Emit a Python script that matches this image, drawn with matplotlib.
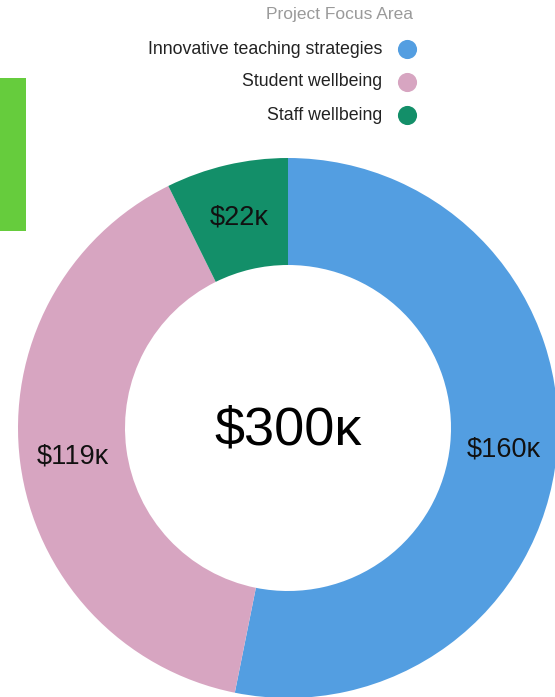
import numpy as np
import matplotlib
matplotlib.use("Agg")
import matplotlib.pyplot as plt
from matplotlib.patches import Rectangle

# ---------------------------------------------------------------------------
# Data
# ---------------------------------------------------------------------------
categories = ["Innovative teaching strategies", "Student wellbeing", "Staff wellbeing"]
values = [160, 119, 22]          # $ thousands
total_label = "$300\u1d0b"
legend_title = "Project Focus Area"
colors = ["#539EE1", "#D7A5C1", "#138F69"]

plt.rcParams["font.family"] = ["Liberation Sans", "DejaVu Sans"]

W, H = 555, 697
fig = plt.figure(figsize=(W / 100, H / 100), dpi=100)
ax = fig.add_axes([0, 0, 1, 1])

# donut
cx, cy, R, ring = 288, H - 428, 270, 107
wedges, _ = ax.pie(values, colors=colors, startangle=90, counterclock=False,
                   center=(cx, cy), radius=R, frame=True,
                   wedgeprops=dict(width=ring, linewidth=0))
ax.set_xlim(0, W)
ax.set_ylim(0, H)
ax.set_aspect("equal")
ax.axis("off")

r_lab = R - ring / 2
for w, v in zip(wedges, values):
    mid = np.deg2rad((w.theta1 + w.theta2) / 2)
    ax.text(cx + r_lab * np.cos(mid), cy + r_lab * np.sin(mid),
            f"${v}\u1d0b", ha="center", va="center", fontsize=19.5, color="#111111")

ax.text(cx, cy - 2, total_label, ha="center", va="center", fontsize=39, color="black")

# green side tab
ax.add_patch(Rectangle((0, H - 231), 26, 153, color="#66CC3D", lw=0))

# legend (text right-aligned, marker on the right)
ax.text(413, H - 14, legend_title, ha="right", va="center", fontsize=12.5, color="#9A9A9A")
for i, (cat, col) in enumerate(zip(categories, colors)):
    y = H - (49 + 33 * i)
    ax.text(382, y, cat, ha="right", va="center", fontsize=12.8, color="#222222")
    ax.scatter([407], [y], s=190, color=col, lw=0)

fig.savefig("out.png", dpi=100)
